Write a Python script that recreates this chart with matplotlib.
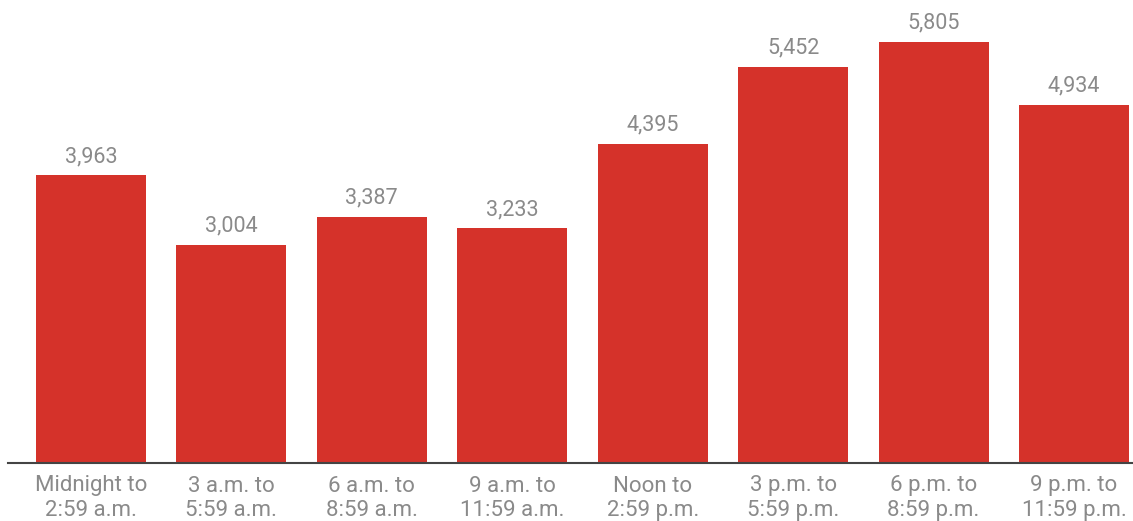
import matplotlib.pyplot as plt

periods = ["Midnight to\n2:59 a.m.", "3 a.m. to\n5:59 a.m.", "6 a.m. to\n8:59 a.m.",
           "9 a.m. to\n11:59 a.m.", "Noon to\n2:59 p.m.", "3 p.m. to\n5:59 p.m.",
           "6 p.m. to\n8:59 p.m.", "9 p.m. to\n11:59 p.m."]
counts = [3963, 3004, 3387, 3233, 4395, 5452, 5805, 4934]

RED = "#d5322a"
GREY = "#8a8a8a"

plt.rcParams["font.family"] = ["Roboto", "DejaVu Sans"]

fig = plt.figure(figsize=(11.33, 5.21), dpi=100)
ax = fig.add_axes([8 / 1133, 58 / 521, 1125 / 1133, 435.6 / 521])

x = range(len(counts))
bars = ax.bar(x, counts, width=0.784, color=RED, zorder=2)
for b, v in zip(bars, counts):
    ax.annotate(f"{v:,}", (b.get_x() + b.get_width() / 2, v), xytext=(0, 6),
                textcoords="offset points", ha="center", va="bottom",
                fontsize=15.5, color=GREY)

ax.set_xlim(-0.59, 7.42)
ax.set_ylim(0, 6000)
ax.set_xticks(list(x))
ax.set_xticklabels(periods, fontsize=16, color=GREY, linespacing=1.2)
ax.tick_params(axis="x", length=0, pad=9)
ax.set_yticks([])
for s in ["top", "right", "left"]:
    ax.spines[s].set_visible(False)
ax.spines["bottom"].set_color("#444444")
ax.spines["bottom"].set_linewidth(1.5)

fig.savefig("out.png", dpi=100)
